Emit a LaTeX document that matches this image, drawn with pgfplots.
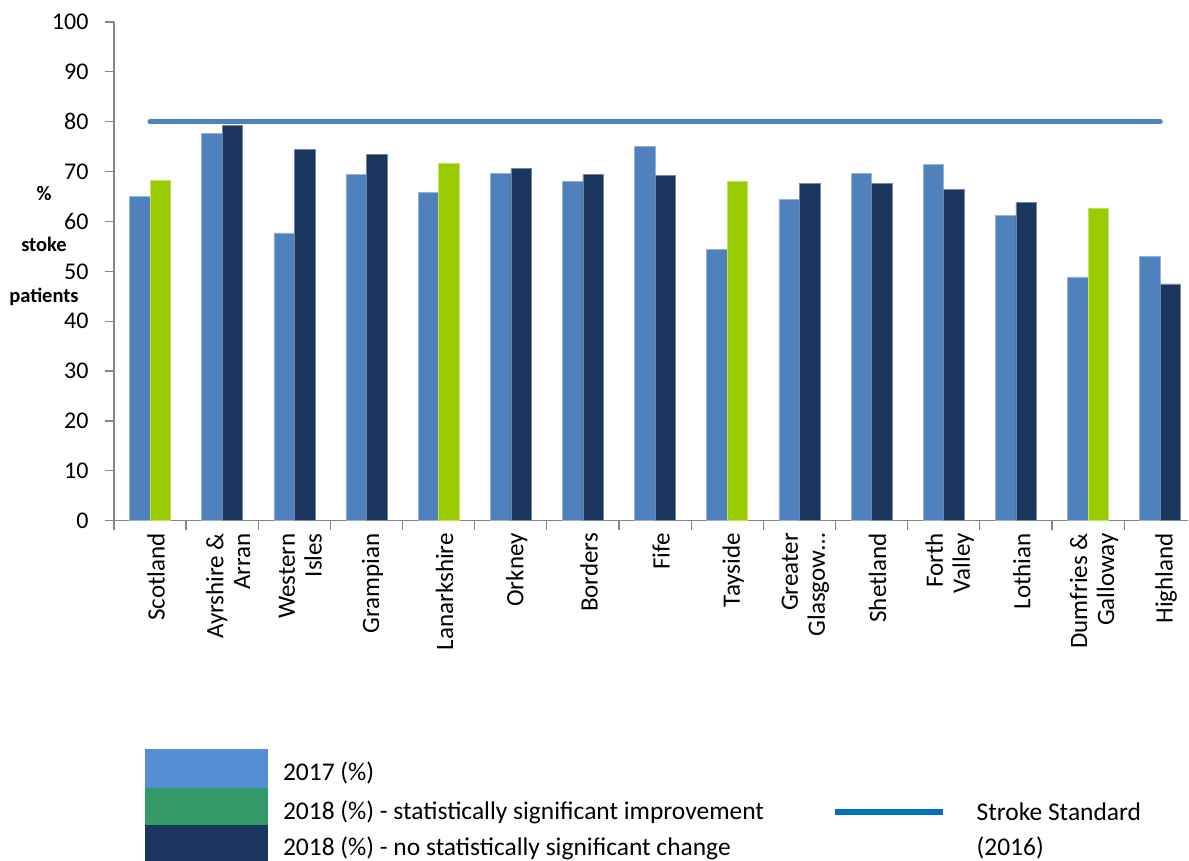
\documentclass[border=0pt]{standalone}
\usepackage{pgfplots}
\pgfplotsset{compat=1.18}
\usepackage{pgfplotstable}
\usepackage{fontspec}
\setmainfont{Carlito}

\definecolor{bar17}{HTML}{4F81BD}
\definecolor{bar18}{HTML}{1A365E}
\definecolor{bar18g}{HTML}{99CC00}
\definecolor{axisgray}{HTML}{868686}
\definecolor{leg17}{HTML}{558ED5}
\definecolor{leg18g}{HTML}{339966}
\definecolor{legline}{HTML}{0070C0}

% 2017, all boards
\pgfplotstableread{
x y
0 65.1
1 77.7
2 57.7
3 69.5
4 65.9
5 69.6
6 68.1
7 75.1
8 54.4
9 64.5
10 69.7
11 71.5
12 61.2
13 48.9
14 53.0
}\seventeen

% 2018, no significant change
\pgfplotstableread{
x y
1 79.3
2 74.4
3 73.5
5 70.6
6 69.5
7 69.3
9 67.7
10 67.7
11 66.4
12 63.8
14 47.5
}\eighteen

% 2018, significant improvement
\pgfplotstableread{
x y
0 68.2
4 71.7
8 68.0
13 62.7
}\eighteensig

\begin{document}
\begin{tikzpicture}
\path (0,0) rectangle (1189pt,861pt);
\begin{axis}[
    at={(114pt,340pt)}, anchor=south west,
    scale only axis,
    width=1075pt, height=499pt,
    xmin=-0.5, xmax=14.39,
    ymin=0, ymax=100,
    axis lines*=left,
    axis line style={axisgray, line width=1.3pt},
    every tick/.style={axisgray, line width=1.2pt},
    tick align=outside,
    ytick={0,10,...,100},
    major tick length=9pt,
    minor tick length=9pt,
    xtick={0,...,14},
    major x tick style={draw=none},
    minor xtick={-0.5,0.5,...,13.5},
    xticklabels={Scotland, {Ayrshire \&\\Arran}, {Western\\Isles}, Grampian,
        Lanarkshire, Orkney, Borders, Fife, Tayside, {Greater\\Glasgow\dots},
        Shetland, {Forth\\Valley}, Lothian, {Dumfries \&\\Galloway}, Highland},
    xticklabel style={rotate=90, anchor=east, align=right,
        font=\fontsize{25}{27}\selectfont, yshift=-6pt},
    yticklabel style={font=\fontsize{24}{26}\selectfont, xshift=-13pt},
    /pgf/number format/assume math mode=true,
    ybar, bar width=20.5pt,
    clip=false,
]
\addplot[fill=bar17, draw=bar17!60!white, line width=0.6pt, bar shift=-10.25pt]
    table[x=x, y=y] {\seventeen};
\addplot[fill=bar18, draw=bar18!60!white, line width=0.6pt, bar shift=10.25pt]
    table[x=x, y=y] {\eighteen};
\addplot[fill=bar18g, draw=bar18g!60!white, line width=0.6pt, bar shift=10.25pt]
    table[x=x, y=y] {\eighteensig};
% stroke standard
\addplot[sharp plot, bar17, line width=5pt, line cap=round]
    coordinates {(0,80) (14,80)};
\end{axis}

% y axis label
\begin{scope}[font=\bfseries\fontsize{20.5}{22}\selectfont]
\node at (44pt,667pt) {\%};
\node at (44pt,616pt) {stoke};
\node at (44pt,564pt) {patients};
\end{scope}

% legend
\fill[leg17] (145pt,73pt) rectangle (268pt,112pt);
\fill[leg18g] (145pt,36pt) rectangle (268pt,73pt);
\fill[bar18] (145pt,0pt) rectangle (268pt,36pt);
\begin{scope}[font=\fontsize{25.5}{28}\selectfont]
\node[anchor=base west, inner sep=0pt] at (283pt,80pt) {2017 (\%)};
\node[anchor=base west, inner sep=0pt] at (283pt,41pt) {2018 (\%) - statistically significant improvement};
\node[anchor=base west, inner sep=0pt] at (283pt,5pt) {2018 (\%) - no statistically significant change};
\draw[legline, line width=6pt] (835pt,49pt) -- (943pt,49pt);
\node[anchor=base west, inner sep=0pt] at (977pt,40pt) {Stroke Standard};
\node[anchor=base west, inner sep=0pt] at (977pt,5pt) {(2016)};
\end{scope}
\end{tikzpicture}
\end{document}
